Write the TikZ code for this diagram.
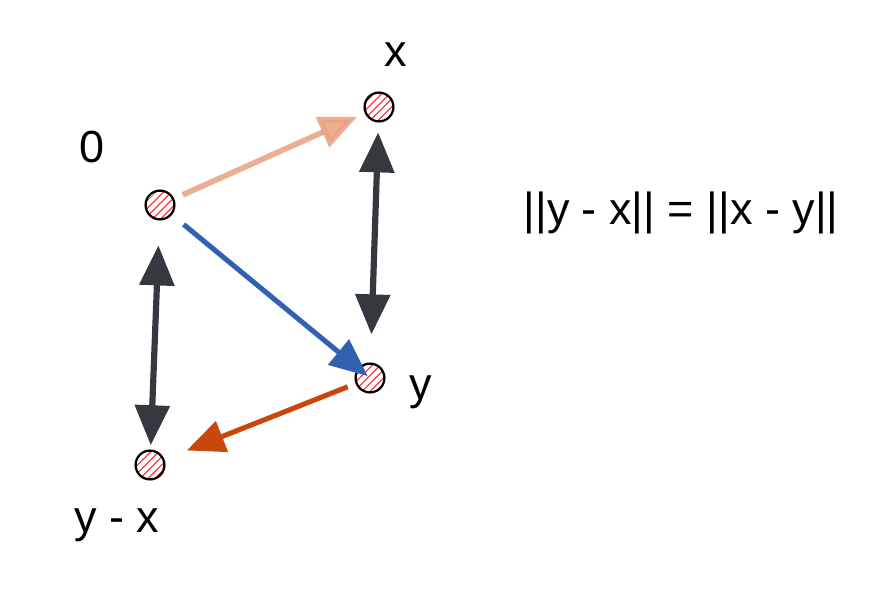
\documentclass[tikz,border=0pt]{standalone}
\usepackage{fontspec}
\setmainfont{Liberation Sans}
\usepackage{xcolor}
\usetikzlibrary{arrows.meta,patterns.meta}

\definecolor{peach}{RGB}{233,160,128}
\definecolor{vecblue}{RGB}{49,98,176}
\definecolor{vecorange}{RGB}{200,72,12}
\definecolor{darkgray}{RGB}{52,56,63}

\begin{document}
\begin{tikzpicture}[x=0.025cm,y=-0.025cm,
      pt/.style={circle,draw,line width=1.6pt,minimum size=0.72cm,inner sep=0pt,
                 pattern={Lines[angle=45,distance=4pt,line width=1pt]},pattern color=red!70},
      lbl/.style={font=\fontsize{32}{34}\selectfont},
      vec/.style={line width=3.6pt,-{Triangle[length=0.95cm,width=0.8cm]}},
      dbl/.style={line width=4.4pt,darkgray,
                  {Triangle[length=1cm,width=0.85cm]}-{Triangle[length=1cm,width=0.85cm]}},
  ]
  \useasboundingbox (0,0) rectangle (890,610);

  % Points
  \node[pt] (o) at (160,205) {};
  \node[pt] (x) at (379,107) {};
  \node[pt] (y) at (370,378) {};
  \node[pt] (yx) at (150,465) {};

  % Labels
  \node[lbl] (lo) at (92,147) {0};
  \node[lbl] (lx) at (396,55) {x};
  \node[lbl] (ly) at (421,392) {y};
  \node[lbl] (lyx) at (117,525) {y - x};
  \node[lbl] (eq) at (681,213) {||y - x|| = ||x - y||};

  % Vectors
  \draw[vec,peach,opacity=0.85,line width=4pt,shorten <=7pt,shorten >=6pt] (o) -- (x);
  \draw[vec,vecblue,shorten <=11pt,shorten >=-9pt] (o) -- (y);
  \draw[vec,vecorange,shorten <=6pt,shorten >=17pt] (y) -- (yx);

  % Equal lengths
  \draw[dbl,shorten <=7pt,shorten >=20pt] (x) -- (y);
  \draw[dbl,shorten <=18pt,shorten >=3pt] (o) -- (yx);
\end{tikzpicture}
\end{document}
